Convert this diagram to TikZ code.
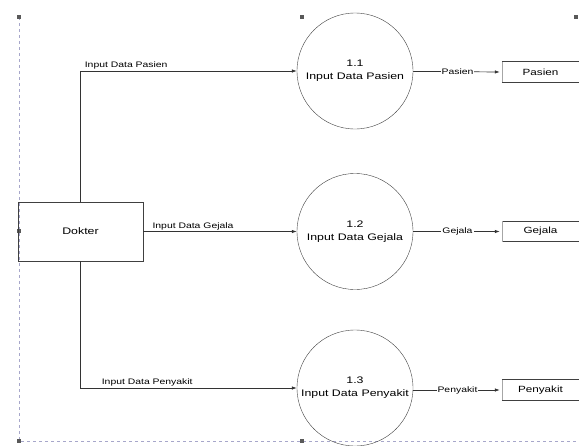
\documentclass[tikz,border=0pt]{standalone}
\usepackage{fontspec}
\setmainfont{Liberation Sans}[FakeStretch=1.3]
\usetikzlibrary{arrows.meta}
\tikzset{
  proc/.style={draw=black!75, circle, minimum size=116pt, inner sep=0pt, align=center, font=\fontsize{9.5}{13}\selectfont},
  entity/.style={draw=black!75, minimum width=125pt, minimum height=59pt, font=\fontsize{9.5}{11}\selectfont},
  store/.style={minimum width=77pt, minimum height=20pt, inner sep=0pt, font=\fontsize{9}{11}\selectfont},
  flow/.style={draw=black!80, line width=0.7pt, -{Latex[length=5pt,width=3.5pt]}},
  lbl/.style={font=\fontsize{8}{10}\selectfont, inner sep=1pt},
  handle/.style={fill=black!65, minimum size=4pt, inner sep=0pt}
}
\begin{document}
\begin{tikzpicture}[x=1pt,y=-1pt]
\useasboundingbox (0,0) rectangle (579,445);
% selection frame
\draw[dashed, blue!25!gray!55] (19,17) -- (19,441) -- (579,441);
\node[handle] (h1) at (19,17) {};
\node[handle] (h2) at (302,17) {};
\node[handle] (h3) at (576,17) {};
\node[handle] (h4) at (19,231) {};
\node[handle] (h5) at (19,441) {};
\node[handle] (h6) at (302,441) {};

\node[entity] (dokter) at (80.5,231.5) {Dokter};

\node[proc] (p1) at (355,71) {1.1\\Input Data Pasien};
\node[proc] (p2) at (355,231.5) {1.2\\Input Data Gejala};
\node[proc] (p3) at (355,388) {1.3\\Input Data Penyakit};

\node[store] (s1) at (540.5,72) {Pasien};
\node[store] (s2) at (540.5,231.5) {Gejala};
\node[store] (s3) at (540.5,390) {Penyakit};
\foreach \s in {s1,s2,s3}{
  \draw[black!75, line width=0.7pt] (\s.north west) -- (\s.north east) (\s.south west) -- (\s.south east);
  \draw[black!35] (\s.north west) -- (\s.south west);
}

\draw[flow] (dokter.north) |- node[lbl, pos=0.5, above right, xshift=3pt] {Input Data Pasien} (p1);
\draw[flow] (dokter) -- node[lbl, pos=0, above right, xshift=8pt] {Input Data Gejala} (p2);
\draw[flow] (dokter.south) |- node[lbl, pos=0.5, above right, xshift=20pt] {Input Data Penyakit} (p3);

\draw[flow, shorten >=2pt] (p1) -- node[lbl, fill=white] {Pasien} (s1.west);
\draw[flow, shorten >=2pt] (p2) -- node[lbl, fill=white] {Gejala} (s2.west);
\draw[flow, shorten >=2pt] (p3.east |- s3.west) -- node[lbl, fill=white] {Penyakit} (s3.west);
\end{tikzpicture}
\end{document}
